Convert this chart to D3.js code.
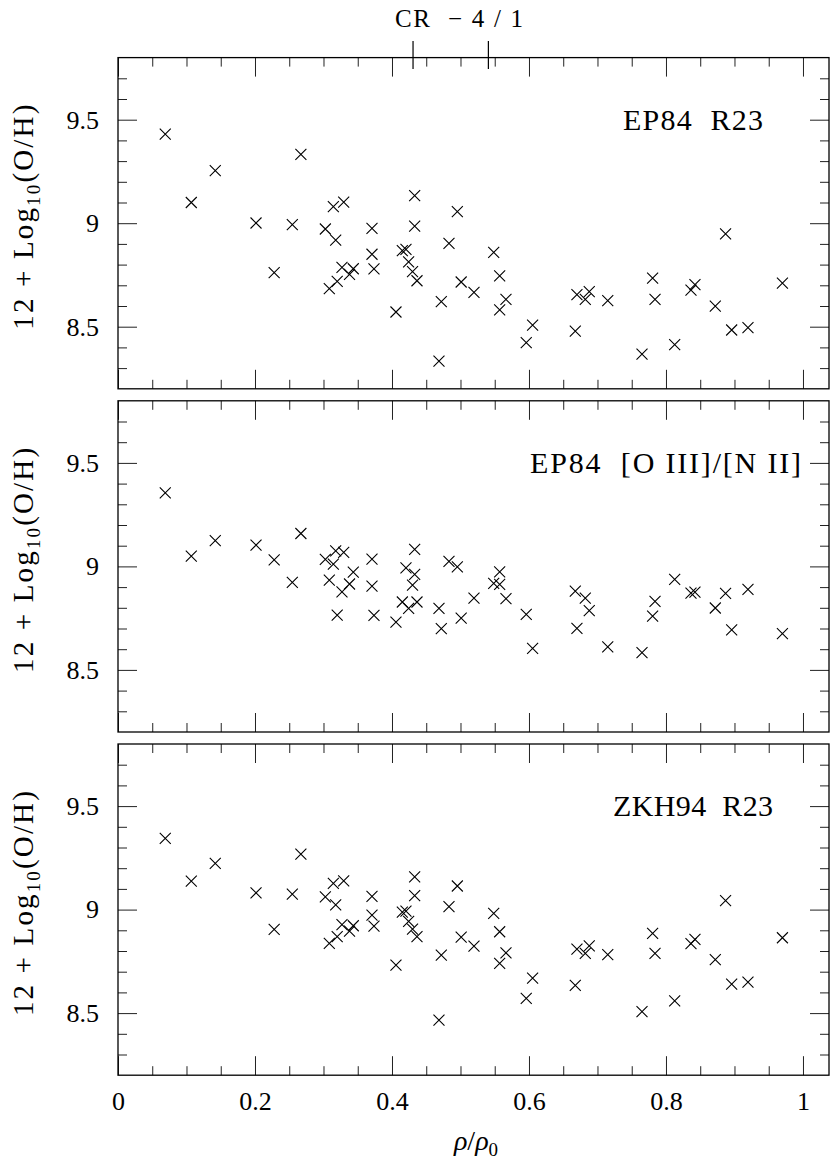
<!DOCTYPE html>
<html lang="en">
<head>
  <meta charset="UTF-8">
  <script src="https://d3js.org/d3.v7.min.js"></script>
  <title>12 + Log(O/H) vs rho/rho0</title>
  <style>
    body { margin: 0; background: #fff; }
    svg text { font-family: "Liberation Serif", "Times New Roman", serif; fill: #000; }
  </style>
</head>
<body>
  <svg width="830" height="1162" font-family="Liberation Serif"></svg>
  <script>
    // radius of each HII region, shared by the three panels
    const radius = [0.069, 0.107, 0.142, 0.2015, 0.228, 0.2545, 0.267, 0.3027, 0.3085, 0.3144,
      0.3178, 0.3295, 0.320, 0.327, 0.338, 0.3435, 0.3708, 0.3708, 0.3737, 0.4058,
      0.4151, 0.4204, 0.4243, 0.430, 0.4365, 0.4331, 0.4331, 0.4686, 0.472, 0.4832,
      0.4954, 0.501, 0.5197, 0.5485, 0.5572, 0.5664, 0.5572, 0.6053, 0.596, 0.6676,
      0.670, 0.6822, 0.688, 0.715, 0.765, 0.7805, 0.784, 0.8127, 0.8365, 0.8423,
      0.872, 0.887, 0.8959, 0.9197, 0.970];

    const ep84R23 = [9.43, 9.10, 9.254, 9.001, 8.761, 8.993, 9.333, 8.972, 8.684, 9.080,
      8.918, 9.102, 8.719, 8.787, 8.753, 8.780, 8.975, 8.850, 8.779, 8.571,
      8.867, 8.874, 8.813, 8.766, 8.722, 9.133, 8.986, 8.334, 8.621, 8.903,
      9.056, 8.716, 8.666, 8.859, 8.745, 8.632, 8.581, 8.508, 8.423, 8.479,
      8.655, 8.632, 8.669, 8.626, 8.368, 8.735, 8.632, 8.413, 8.677, 8.703,
      8.599, 8.948, 8.484, 8.495, 8.711];

    const ep84N2 = [9.355, 9.05, 9.125, 9.103, 9.032, 8.923, 9.159, 9.034, 8.934, 9.011,
      9.075, 9.068, 8.765, 8.877, 8.915, 8.972, 9.035, 8.905, 8.763, 8.731,
      8.828, 8.993, 8.797, 8.910, 8.828, 9.082, 8.961, 8.797, 8.699, 9.024,
      8.998, 8.750, 8.847, 8.918, 8.974, 8.844, 8.913, 8.604, 8.768, 8.881,
      8.701, 8.847, 8.786, 8.611, 8.583, 8.760, 8.831, 8.937, 8.871, 8.876,
      8.799, 8.870, 8.693, 8.889, 8.675];

    const zkh94R23 = [9.344, 9.138, 9.223, 9.081, 8.904, 9.075, 9.268, 9.062, 8.837, 9.127,
      9.023, 9.139, 8.869, 8.927, 8.896, 8.922, 9.064, 8.973, 8.920, 8.732,
      8.988, 8.993, 8.943, 8.906, 8.869, 9.158, 9.068, 8.466, 8.780, 9.014,
      9.114, 8.867, 8.824, 8.982, 8.893, 8.791, 8.740, 8.669, 8.571, 8.634,
      8.809, 8.788, 8.825, 8.783, 8.507, 8.885, 8.788, 8.559, 8.836, 8.856,
      8.758, 9.043, 8.640, 8.650, 8.864];

    const panelNames = ["EP84  R23", "EP84  [O III]/[N II]", "ZKH94  R23"];
    const xTickLabels = ["0", "0.2", "0.4", "0.6", "0.8", "1"];
    const yTickLabels = ["8.5", "9", "9.5"];
    const crRadii = [0.43, 0.54];

    const serif = "Liberation Serif";
    const svg = d3.select("svg");

    const panels = [
      { name: panelNames[0], values: ep84R23, labelX: 623, labelW: 140 },
      { name: panelNames[1], values: ep84N2, labelX: 530, labelW: 271 },
      { name: panelNames[2], values: zkh94R23, labelX: 613, labelW: 160 }
    ];

    const xScale = d3.scaleLinear().domain([0, 1.038]).range([118, 829]);
    const xMajor = xTickLabels.map(Number);
    const xMinor = d3.range(1, 21).filter(i => i % 4 !== 0).map(i => i * 0.05);
    const yMajor = yTickLabels.map(Number);
    const yMinor = d3.range(83, 98).filter(i => i % 5 !== 0).map(i => i / 10);

    const panelTop = 57.6, panelStep = 343.2, panelH = 331.2;
    const cross = "M-5.5,-5.5L5.5,5.5M-5.5,5.5L5.5,-5.5";

    const tidy = g => {
      g.select(".domain").remove();
      g.attr("font-family", serif).attr("font-size", 26);
      g.selectAll(".tick line").attr("stroke", "#222").attr("stroke-width", 1);
    };

    panels.forEach((p, i) => {
      const top = panelTop + i * panelStep;
      const bottom = top + panelH;
      const yScale = d3.scaleLinear().domain([8.2, 9.8]).range([bottom, top]);
      const g = svg.append("g");

      // inward ticks on all four sides, majors longer than minors
      [[xMajor, 19], [xMinor, 9]].forEach(([vals, len]) => {
        g.append("g").attr("transform", `translate(0,${top})`)
          .call(d3.axisTop(xScale).tickValues(vals).tickSizeInner(-len).tickSizeOuter(0).tickFormat(""))
          .call(tidy);
        g.append("g").attr("transform", `translate(0,${bottom})`)
          .call(d3.axisBottom(xScale).tickValues(vals).tickSizeInner(-len).tickSizeOuter(0)
            .tickPadding(16.5)
            .tickFormat((d, k) => (i === 2 && len === 19) ? xTickLabels[k] : ""))
          .call(tidy);
      });
      [[yMajor, 19], [yMinor, 9]].forEach(([vals, len]) => {
        g.append("g").attr("transform", `translate(${xScale.range()[0]},0)`)
          .call(d3.axisLeft(yScale).tickValues(vals).tickSizeInner(-len).tickSizeOuter(0)
            .tickPadding(19)
            .tickFormat((d, k) => len === 19 ? yTickLabels[k] : ""))
          .call(tidy);
        g.append("g").attr("transform", `translate(${xScale.range()[1]},0)`)
          .call(d3.axisRight(yScale).tickValues(vals).tickSizeInner(-len).tickSizeOuter(0).tickFormat(""))
          .call(tidy);
      });

      g.append("rect")
        .attr("x", xScale.range()[0]).attr("y", top)
        .attr("width", xScale.range()[1] - xScale.range()[0]).attr("height", panelH)
        .attr("fill", "none").attr("stroke", "#000").attr("stroke-width", 1.3);

      g.selectAll("path.pt")
        .data(p.values)
        .enter()
        .append("path")
        .attr("class", "pt")
        .attr("d", cross)
        .attr("transform", (d, k) => `translate(${xScale(radius[k])},${yScale(d)})`)
        .attr("stroke", "#000")
        .attr("stroke-width", 1.1)
        .attr("fill", "none");

      g.append("text")
        .attr("x", p.labelX).attr("y", top + 72)
        .attr("font-size", 30)
        .attr("textLength", p.labelW)
        .attr("lengthAdjust", "spacing")
        .style("white-space", "pre")
        .text(p.name);

      const yl = g.append("text")
        .attr("transform", `translate(33,${(top + bottom) / 2 - 6}) rotate(-90)`)
        .attr("text-anchor", "middle")
        .attr("font-size", 29)
        .attr("textLength", 225)
        .attr("lengthAdjust", "spacing")
        .style("white-space", "pre");
      yl.append("tspan").text("12 + Log");
      yl.append("tspan").attr("font-size", 19).attr("dy", 7).text("10");
      yl.append("tspan").attr("dy", -7).text("(O/H)");
    });

    // corotation markers above the top panel
    svg.append("g").attr("transform", "translate(0,69)")
      .call(d3.axisTop(xScale).tickValues(crRadii).tickSizeInner(28).tickSizeOuter(0).tickFormat(""))
      .call(g => {
        g.select(".domain").remove();
        g.selectAll(".tick line").attr("stroke", "#000").attr("stroke-width", 1.2);
      });

    svg.append("text")
      .attr("x", 395).attr("y", 27)
      .attr("font-size", 25)
      .attr("letter-spacing", 1.5)
      .text("CR");
    svg.append("text")
      .attr("x", 448).attr("y", 27)
      .attr("font-size", 25)
      .attr("textLength", 75)
      .attr("lengthAdjust", "spacing")
      .text("\u22124/1");

    const xl = svg.append("text")
      .attr("x", 476).attr("y", 1150)
      .attr("text-anchor", "middle")
      .attr("font-size", 28);
    xl.append("tspan").attr("font-style", "italic").text("\u03c1");
    xl.append("tspan").text("/");
    xl.append("tspan").attr("font-style", "italic").text("\u03c1");
    xl.append("tspan").attr("font-size", 19).attr("dy", 6).text("0");
  </script>
</body>
</html>
